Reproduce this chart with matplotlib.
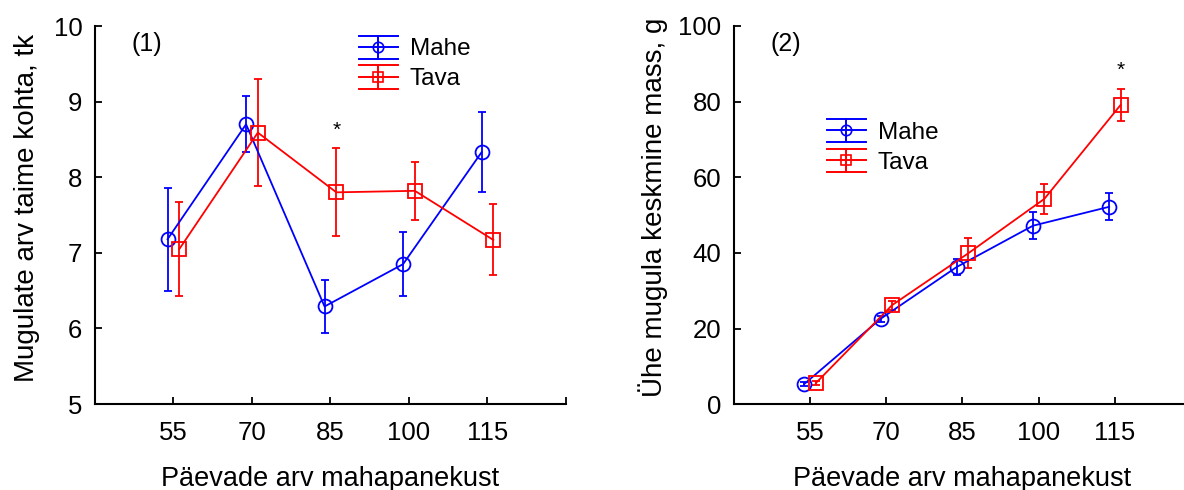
import numpy as np
import matplotlib.pyplot as plt
from matplotlib.lines import Line2D
from matplotlib.legend_handler import HandlerBase
from matplotlib.container import ErrorbarContainer

plt.rcParams['font.family'] = ['Liberation Sans', 'DejaVu Sans']

days = ['55', '70', '85', '100', '115']

# tubers per plant (mean and error)
count_mahe = [7.18, 8.70, 6.29, 6.85, 8.33]
count_mahe_err = [0.68, 0.37, 0.35, 0.42, 0.53]
count_tava = [7.05, 8.59, 7.80, 7.82, 7.17]
count_tava_err = [0.62, 0.71, 0.58, 0.38, 0.47]

# mean tuber mass, g
mass_mahe = [5.4, 22.6, 36.3, 47.2, 52.2]
mass_mahe_err = [0.6, 0.8, 2.2, 3.6, 3.6]
mass_tava = [5.6, 26.2, 39.9, 54.3, 79.1]
mass_tava_err = [0.6, 1.2, 4.0, 3.9, 4.2]

BLUE = '#0000ff'
RED = '#ff0000'


class ErrHandler(HandlerBase):
    # legend key: three full-width lines, a vertical bar and a small marker
    def create_artists(self, legend, orig_handle, xdescent, ydescent,
                       width, height, fontsize, trans):
        line = orig_handle.lines[0]
        c = line.get_color()
        x0, x1 = -xdescent, width - xdescent
        yc = height / 2 - ydescent
        h = height * 0.55
        arts = []
        for y in (yc - h, yc, yc + h):
            arts.append(Line2D([x0, x1], [y, y], color=c, lw=1.4))
        xm = (x0 + x1) / 2
        arts.append(Line2D([xm, xm], [yc - h, yc + h], color=c, lw=1.4))
        arts.append(Line2D([xm], [yc], marker=line.get_marker(), ms=7.5,
                           mfc='none', mec=c, mew=1.2, color=c))
        for a in arts:
            a.set_transform(trans)
        return arts


def panel(ax, m, me, t, te, ylim, yticks):
    x = np.arange(1, len(days) + 1)
    style = dict(lw=1.3, capsize=3.2, elinewidth=1.3, capthick=1.3,
                 mfc='none', mew=1.3)
    em = ax.errorbar(x - 0.075, m, yerr=me, color=BLUE, marker='o', ms=10,
                     label='Mahe', **style)
    et = ax.errorbar(x + 0.075, t, yerr=te, color=RED, marker='s', ms=9.5,
                     label='Tava', **style)
    ax.set_xlim(0, 6)
    ax.set_ylim(*ylim)
    ax.set_xticks(range(0, 7))
    ax.set_xticklabels([''] + days + [''])
    ax.set_yticks(yticks)
    for s in ('top', 'right'):
        ax.spines[s].set_visible(False)
    for s in ('left', 'bottom'):
        ax.spines[s].set_linewidth(1.5)
    ax.tick_params(axis='both', direction='in', length=5, width=1.3,
                   labelsize=18.5)
    ax.tick_params(axis='x', pad=12)
    ax.tick_params(axis='y', pad=9)
    ax.set_xlabel('Päevade arv mahapanekust', fontsize=19.5)
    ax.xaxis.set_label_coords(0.5, -0.163)
    return em, et


fig = plt.figure(figsize=(11.84, 4.9), dpi=100)
ax1 = fig.add_axes([0.0802, 0.1755, 0.3978, 0.7714])
ax2 = fig.add_axes([0.6199, 0.1749, 0.386, 0.7721])

h1 = panel(ax1, count_mahe, count_mahe_err, count_tava, count_tava_err,
           (5, 10), range(5, 11))
ax1.set_ylabel('Mugulate arv taime kohta, tk', fontsize=20)
ax1.yaxis.set_label_coords(-0.116, 0.52)
ax1.text(0.078, 0.952, '(1)', transform=ax1.transAxes, fontsize=18,
         ha='left', va='center')
ax1.text(3 + 0.075, count_tava[2] + count_tava_err[2] + 0.12, '*',
         ha='center', va='bottom', fontsize=15)

h2 = panel(ax2, mass_mahe, mass_mahe_err, mass_tava, mass_tava_err,
           (0, 100), range(0, 101, 20))
ax2.set_ylabel('Ühe mugula keskmine mass, g', fontsize=20)
ax2.yaxis.set_label_coords(-0.144, 0.52)
ax2.text(0.079, 0.952, '(2)', transform=ax2.transAxes, fontsize=18,
         ha='left', va='center')
ax2.text(5 + 0.075, mass_tava[4] + mass_tava_err[4] + 2.5, '*',
         ha='center', va='bottom', fontsize=15)

leg_kw = dict(handler_map={ErrorbarContainer: ErrHandler()}, frameon=False,
              fontsize=17.5, handlelength=1.6, handleheight=0.95,
              labelspacing=0.25, handletextpad=0.5, borderpad=0,
              borderaxespad=0, loc='upper left')
ax1.legend(h1, ['Mahe', 'Tava'], bbox_to_anchor=(0.56, 0.972), **leg_kw)
ax2.legend(h2, ['Mahe', 'Tava'], bbox_to_anchor=(0.203, 0.752), **leg_kw)

fig.savefig('out.png', dpi=100)
